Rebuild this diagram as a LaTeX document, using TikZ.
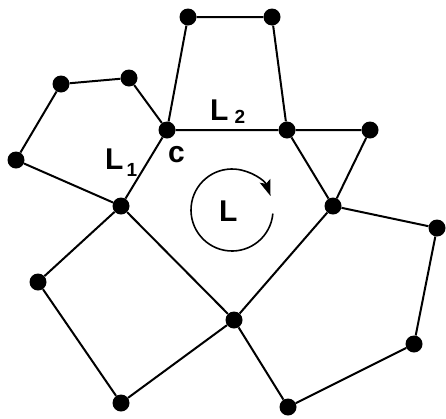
\documentclass[tikz,border=0pt]{standalone}
\usepackage{fontspec}
\setmainfont{Liberation Sans}
\usetikzlibrary{arrows.meta,calc}
\begin{document}
\begin{tikzpicture}[x=1pt,y=-1pt,
  dot/.style={circle,fill=black,minimum size=17pt,inner sep=0pt},
  edge/.style={line width=2pt},
  lbl/.style={inner sep=0pt,anchor=base west,font=\bfseries\fontsize{30}{30}\selectfont}]
\useasboundingbox (0,0) rectangle (446,418);
\node[dot] (t1) at (188,17) {};
\node[dot] (t2) at (272,17) {};
\node[dot] (p1) at (61,84) {};
\node[dot] (p2) at (129,78) {};
\node[dot] (p3) at (16,160) {};
\node[dot] (c) at (167,130) {};
\node[dot] (r1) at (287,130) {};
\node[dot] (r2) at (370,130) {};
\node[dot] (a) at (121,206) {};
\node[dot] (b) at (333,206) {};
\node[dot] (e1) at (437,228) {};
\node[dot] (q1) at (38,282) {};
\node[dot] (m) at (234,320) {};
\node[dot] (e2) at (414,344) {};
\node[dot] (q2) at (121,403) {};
\node[dot] (e3) at (288,407) {};
\draw[edge] (t1) -- (t2) (t1) -- (c) (t2) -- (r1) (c) -- (r1)
  (r1) -- (r2) (r2) -- (b) (r1) -- (b)
  (c) -- (p2) (p2) -- (p1) (p1) -- (p3) (p3) -- (a)
  (c) -- (a) (a) -- (m) (m) -- (b)
  (b) -- (e1) (e1) -- (e2) (e2) -- (e3) (e3) -- (m)
  (a) -- (q1) (q1) -- (q2) (q2) -- (m);
\node[lbl] (l2) at (210,120) {L\hspace{6pt}\raisebox{-3pt}{\fontsize{19}{19}\selectfont 2}};
\node[lbl] (l1) at (105,169) {L\hspace{3pt}\raisebox{-7pt}{\fontsize{19}{19}\selectfont 1}};
\node[lbl] (cl) at (168,162) {c};
\node[lbl] (ll) at (219,221) {L};
\coordinate (o) at (232,210);
\draw[line width=1.6pt,-{Stealth[length=16pt,width=11pt,inset=3pt]}] ($(o)+(5:41)$) arc[start angle=5,end angle=340,radius=41];
\end{tikzpicture}
\end{document}
